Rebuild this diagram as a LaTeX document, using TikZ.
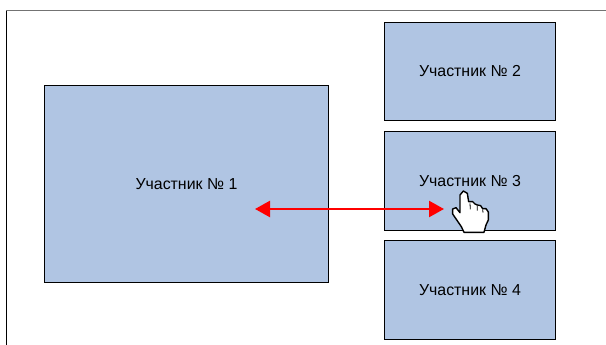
\documentclass[tikz,border=0pt]{standalone}
\usepackage{fontspec}
\setmainfont{Liberation Sans}
\usetikzlibrary{arrows.meta}
\definecolor{boxblue}{RGB}{176,197,227}
\tikzset{
  pbox/.style={draw=black,line width=0.9pt,fill=boxblue,anchor=north west,inner sep=0pt,font=\fontsize{15.9}{18}\selectfont,align=center},
  link/.style={draw=red,line width=2.4pt,{Triangle[length=15pt,width=16pt]}-{Triangle[length=15pt,width=16pt]}},
  frameline/.style={line width=1pt},
  handline/.style={draw=black,line width=1.4pt,line join=round}
}
\begin{document}
\begin{tikzpicture}[x=1pt,y=-1pt]
\useasboundingbox (0,0) rectangle (606,345);
\fill[white] (0,0) rectangle (606,345);
\draw[frameline,draw=black] (6.5,345) -- (6.5,11);
\draw[frameline,draw=gray!90!black] (6,11) -- (606,11);
\node[pbox,minimum width=284pt,minimum height=197pt] (p1) at (44,85) {Участник № 1};
\node[pbox,minimum width=171pt,minimum height=98pt] (p2) at (384,22) {Участник № 2};
\node[pbox,minimum width=171pt,minimum height=99pt] (p3) at (384,131) {Участник № 3};
\node[pbox,minimum width=171pt,minimum height=99pt] (p4) at (384,240) {Участник № 4};
\coordinate (a) at (255,209);
\coordinate (b) at (444,209);
\draw[link] (a) -- (b);
\begin{scope}[shift={(420,170)},x=0.3333pt,y=-0.3333pt]
\draw[handline,fill=white] (120,75) -- (130,63) -- (142,70) -- (146,95) -- (158,95) -- (165,102) -- (172,105) -- (182,107) -- (188,116) -- (198,116) -- (205,126) -- (205,150) -- (198,165) -- (192,187) -- (132,187) -- (124,170) -- (98,132) -- (98,117) -- (108,113) -- (120,128) -- cycle;
\draw[handline,line width=0.8pt] (150,100) -- (151,118) (172,108) -- (172,122) (188,118) -- (189,128);
\end{scope}
\end{tikzpicture}
\end{document}
